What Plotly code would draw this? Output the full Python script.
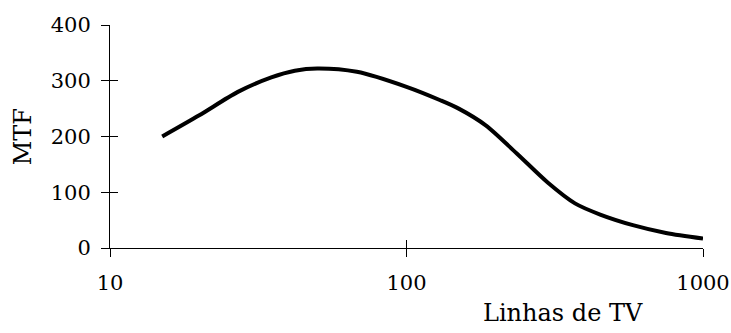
import plotly.graph_objects as go

# Data
linhas = [15, 20, 27, 35, 42, 50, 68, 100, 130, 150, 185, 235, 300, 370, 450, 580, 750, 1000]
mtf = [200, 238, 280, 306, 318, 322, 316, 289, 265, 250, 220, 170, 117, 80, 60, 41, 27, 17]

x_ticks = [10, 100, 1000]
x_tick_labels = ["10", "100", "1000"]
y_ticks = [0, 100, 200, 300, 400]

FONT = "DejaVu Serif"

fig = go.Figure()
fig.add_trace(go.Scatter(
    x=linhas, y=mtf, mode="lines",
    line=dict(color="black", width=4, shape="spline", smoothing=0.8),
    showlegend=False, hoverinfo="skip",
))
# invisible trace to anchor the overlay axes (inside tick halves)
fig.add_trace(go.Scatter(
    x=[linhas[0]], y=[mtf[0]], xaxis="x2", yaxis="y2", mode="markers",
    marker=dict(opacity=0), showlegend=False, hoverinfo="skip",
))

axis_common = dict(showgrid=False, zeroline=False, showline=True,
                   linecolor="black", linewidth=1, ticklen=8, tickwidth=1,
                   tickcolor="black", automargin=False)

fig.update_layout(
    width=731, height=333,
    margin=dict(l=110, r=28, t=25, b=85),
    paper_bgcolor="white", plot_bgcolor="white",
    font=dict(family=FONT, size=21, color="black"),
    xaxis=dict(type="log", range=[1, 3], tickvals=x_ticks, ticktext=x_tick_labels,
               ticks="outside", ticklabelstandoff=8, **axis_common),
    yaxis=dict(range=[0, 400], tickvals=y_ticks, ticks="outside",
               ticklabelstandoff=6, **axis_common),
    xaxis2=dict(type="log", range=[1, 3], tickvals=x_ticks, ticks="inside",
                showticklabels=False, overlaying="x", anchor="y2",
                **axis_common),
    yaxis2=dict(range=[0, 400], tickvals=y_ticks, ticks="inside",
                showticklabels=False, overlaying="y", anchor="x2",
                **axis_common),
    annotations=[
        dict(text="Linhas de TV", xref="paper", yref="paper",
             x=0.764, y=-0.29, showarrow=False, xanchor="center", yanchor="middle",
             font=dict(family=FONT, size=24)),
        dict(text="MTF", xref="paper", yref="paper", textangle=-90,
             x=-0.147, y=0.5, showarrow=False, xanchor="center", yanchor="middle",
             font=dict(family=FONT, size=24)),
    ],
)

fig.write_html(
    "out.html",
    config={"displayModeBar": False},
    post_script="document.body.style.margin='0';document.body.style.overflow='hidden';",
)
